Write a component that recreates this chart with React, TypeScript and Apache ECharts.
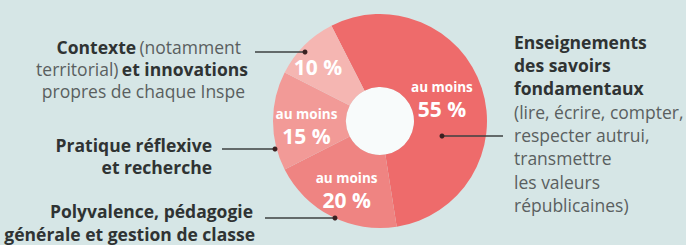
import React, { useEffect, useRef } from "react";
import * as echarts from "echarts";

const categories = [
  "Enseignements des savoirs fondamentaux",
  "Polyvalence, pédagogie générale et gestion de classe",
  "Pratique réflexive et recherche",
  "Contexte et innovations propres de chaque Inspe",
];
const values = [55, 20, 15, 10];
const prefixes = ["au moins", "au moins", "au moins", ""];
const colors = ["#ee6b6b", "#ef8482", "#f29a97", "#f5b6b2"];

const FONT = "'Open Sans', Roboto, sans-serif";
const DARK = "#2f3333";
const GREY = "#5a5f5f";

type Line = { t: string; x: number; y: number; align: "left" | "right" };
const annotLines: Line[] = [
  { t: "{b|Contexte} {r|(notamment}", x: 241, y: 47, align: "right" },
  { t: "{r|territorial)} {b|et innovations}", x: 248, y: 69, align: "right" },
  { t: "{r|propres de chaque Inspe}", x: 245, y: 91, align: "right" },
  { t: "{b|Pratique réflexive}", x: 212, y: 145, align: "right" },
  { t: "{b|et recherche}", x: 212, y: 167, align: "right" },
  { t: "{b|Polyvalence, pédagogie}", x: 253, y: 211, align: "right" },
  { t: "{b|générale et gestion de classe}", x: 255, y: 234, align: "right" },
  { t: "{b|Enseignements}", x: 514, y: 42, align: "left" },
  { t: "{b|des savoirs}", x: 514, y: 65, align: "left" },
  { t: "{b|fondamentaux}", x: 514, y: 88, align: "left" },
  { t: "{r|(lire, écrire, compter,}", x: 514, y: 112, align: "left" },
  { t: "{r|respecter autrui,}", x: 514, y: 135, align: "left" },
  { t: "{r|transmettre}", x: 514, y: 158, align: "left" },
  { t: "{r|les valeurs}", x: 514, y: 182, align: "left" },
  { t: "{r|républicaines)}", x: 514, y: 205, align: "left" },
];

const leaders = [
  { x1: 255, x2: 305, y: 52, dot: 305 },
  { x1: 222, x2: 275, y: 149, dot: 275 },
  { x1: 265, x2: 335, y: 218, dot: 335 },
  { x1: 442, x2: 503, y: 136, dot: 442 },
];

const labelOffsets: number[][] = [[-8, 0], [0, 3], [0, 4], [-10, -2]];

export default function App() {
  const ref = useRef<HTMLDivElement>(null);
  useEffect(() => {
    if (!ref.current) return;
    const chart = echarts.init(ref.current, null, { renderer: "svg" });
    const graphics: any[] = [];
    annotLines.forEach((l) => {
      graphics.push({
        type: "text",
        x: l.x,
        y: l.y,
        style: {
          text: l.t,
          align: l.align,
          verticalAlign: "middle",
          rich: {
            b: { fontFamily: FONT, fontSize: 17.5, fontWeight: "bold", fill: DARK, color: DARK, lineHeight: 20 },
            r: { fontFamily: FONT, fontSize: 17.5, fontWeight: "normal", fill: GREY, color: GREY, lineHeight: 20 },
          },
        },
      });
    });
    leaders.forEach((ld) => {
      graphics.push({
        type: "line",
        shape: { x1: ld.x1, y1: ld.y, x2: ld.x2, y2: ld.y },
        style: { stroke: "#3d4040", lineWidth: 1.5 },
        z: 10,
      });
      graphics.push({
        type: "circle",
        shape: { cx: ld.dot, cy: ld.y, r: 2.5 },
        style: { fill: "#3a2020" },
        z: 11,
      });
    });
    chart.setOption({
      animation: false,
      backgroundColor: "#d6e6e6",
      series: [
        {
          type: "pie",
          center: [380, 121],
          radius: [0, 34],
          silent: true,
          label: { show: false },
          labelLine: { show: false },
          emphasis: { disabled: true },
          itemStyle: { color: "#f8fbfb" },
          data: [{ name: "", value: 1 }],
        },
        {
          type: "pie",
          center: [380, 121],
          radius: [34, 107],
          startAngle: 117,
          clockwise: true,
          silent: true,
          itemStyle: { borderWidth: 0 },
          emphasis: { disabled: true },
          label: {
            show: true,
            position: "inside",
            formatter: (p: any) => {
              const pre = prefixes[p.dataIndex];
              return (pre ? "{s|" + pre + "}\n" : "") + "{v|" + p.value + " %}";
            },
            rich: {
              s: { fontFamily: FONT, fontSize: 13.5, fontWeight: "bold", color: "#ffffff", lineHeight: 21 },
              v: { fontFamily: FONT, fontSize: 21, fontWeight: "bold", color: "#ffffff", lineHeight: 23 },
            },
          },
          labelLine: { show: false },
          data: categories.map((c, i) => ({
            name: c,
            value: values[i],
            itemStyle: { color: colors[i] },
            label: { offset: labelOffsets[i] },
          })),
        },
      ],
      graphic: graphics,
    });
    return () => chart.dispose();
  }, []);
  return (
    <div
      ref={ref}
      style={{ position: "fixed", left: 0, top: 0, width: 686, height: 245 }}
    />
  );
}
